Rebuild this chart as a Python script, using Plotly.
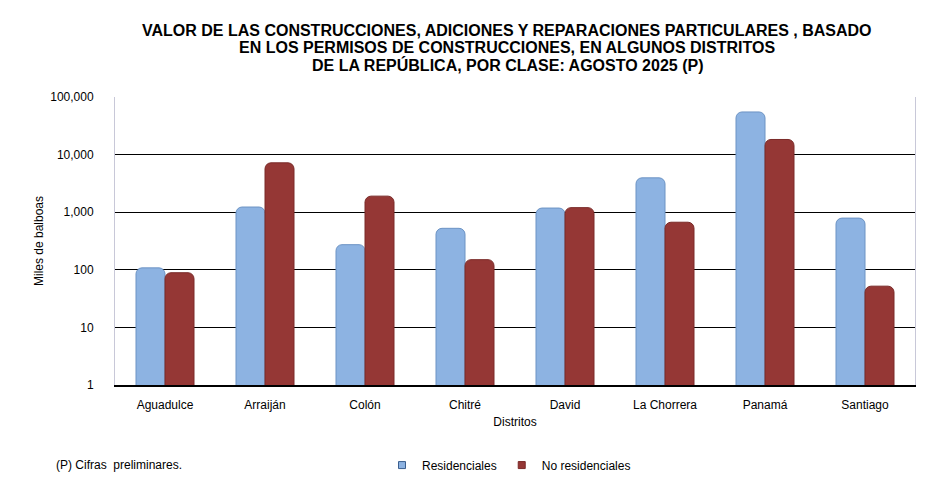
import plotly.graph_objects as go

# Valor por distrito, miles de balboas (escala log)
distritos = ["Aguadulce", "Arraiján", "Colón", "Chitré", "David",
             "La Chorrera", "Panamá", "Santiago"]
residenciales = [108, 1230, 273, 525, 1180, 3950, 55000, 790]
no_residenciales = [89, 7200, 1900, 150, 1200, 670, 18300, 52]

tick_vals = [1, 10, 100, 1000, 10000, 100000]
tick_text = ["1", "10", "100", "1,000", "10,000", "100,000"]

title_lines = [
    "VALOR DE LAS CONSTRUCCIONES, ADICIONES Y REPARACIONES PARTICULARES , BASADO",
    "EN LOS PERMISOS DE CONSTRUCCIONES, EN ALGUNOS DISTRITOS",
    "DE LA REPÚBLICA, POR CLASE: AGOSTO 2025 (P)",
]

FONT = "Liberation Sans, Arial"
BLUE, BLUE_EDGE = "#8DB3E2", "#6C93C4"
RED, RED_EDGE = "#953735", "#7A2A28"

fig = go.Figure()
fig.add_trace(go.Bar(
    x=distritos, y=residenciales, name="Residenciales", showlegend=False,
    marker=dict(color=BLUE, line=dict(color=BLUE_EDGE, width=1), cornerradius=6),
))
fig.add_trace(go.Bar(
    x=distritos, y=no_residenciales, name="No residenciales", showlegend=False,
    marker=dict(color=RED, line=dict(color=RED_EDGE, width=1), cornerradius=6),
))
# small square legend keys, like the original
for name, col, edge in [("Residenciales", BLUE, "#3B5F8F"),
                        ("No residenciales", RED, RED_EDGE)]:
    fig.add_trace(go.Scatter(
        x=[None], y=[None], mode="markers", name=name,
        marker=dict(symbol="square", size=7, color=col,
                    line=dict(color=edge, width=1)),
    ))

annotations = []
for i, line in enumerate(title_lines):
    annotations.append(dict(
        text="<b>%s</b>" % line, xref="paper", yref="paper",
        x=0.49, y=1.2326 - i * 0.0608, xanchor="center", yanchor="middle",
        showarrow=False, font=dict(family=FONT, size=16, color="black"),
    ))
annotations.append(dict(
    text="(P) Cifras  preliminares.", xref="paper", yref="paper",
    x=-0.0763, y=-0.278, xanchor="left", yanchor="middle",
    showarrow=False, font=dict(size=12),
))

# page body adds ~8px offset, so the figure is a bit smaller than the window
fig.update_layout(
    width=943, height=471,
    margin=dict(l=107, r=36, t=89, b=94, autoexpand=False),
    paper_bgcolor="white", plot_bgcolor="white",
    barmode="group", bargap=0.42, bargroupgap=0.0,
    font=dict(family=FONT, size=12, color="black"),
    xaxis=dict(
        title=dict(text="Distritos", standoff=6, font=dict(size=12)),
        showline=True, linecolor="black", linewidth=2,
        ticks="", tickfont=dict(size=12), ticklabelstandoff=8,
        automargin=False,
    ),
    yaxis=dict(
        type="log", range=[0, 5],
        tickvals=tick_vals, ticktext=tick_text,
        showgrid=True, gridcolor="black", gridwidth=1,
        showline=True, linecolor="#C8C8D8", linewidth=1, mirror=True,
        zeroline=False, ticklabelstandoff=18, automargin=False,
        title=dict(text="Miles de balboas", standoff=4, font=dict(size=12)),
        tickfont=dict(size=12),
    ),
    legend=dict(
        orientation="h", x=0.4925, xanchor="center", y=-0.278, yanchor="middle",
        font=dict(size=12), itemwidth=30, traceorder="normal",
    ),
    annotations=annotations,
)

fig.write_html("out.html")
